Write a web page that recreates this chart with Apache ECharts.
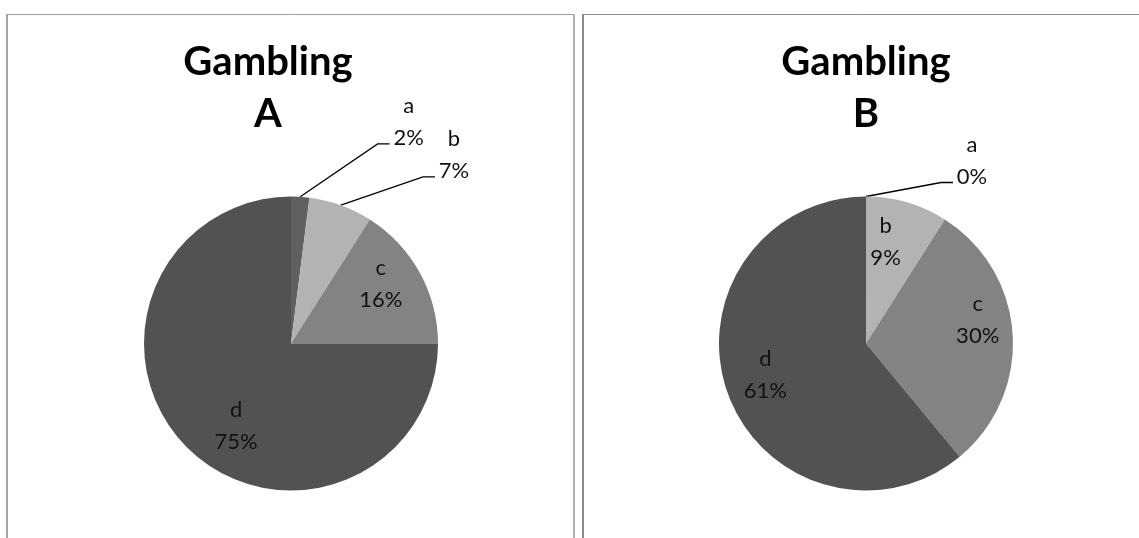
<!DOCTYPE html>
<html><head><meta charset="utf-8">
<script src="https://cdn.jsdelivr.net/npm/echarts@6/dist/echarts.min.js"></script>
<style>html,body{margin:0;padding:0;background:#fff}#c{width:1139px;height:538px}</style>
</head><body><div id="c"></div>
<script>
// ---- data ----
const categories = ['a', 'b', 'c', 'd'];
const valuesA = [2, 7, 16, 75];
const valuesB = [0, 9, 30, 61];
const titleTextA = 'Gambling\nA';
const titleTextB = 'Gambling\nB';
const outsideA = ['a', 'b'];
const outsideB = ['a'];

// ---- styles ----
const colors = ['#606060', '#b3b3b3', '#838383', '#525252'];
const R = 147;
const centerA = [291, 343.5];
const centerB = [866, 343.5];
const leaderA = { a: [53, 86], b: [30, 84] };
const leaderB = { a: [14, 87] };
const insideOffsetA = { c: [-3, -9], d: [20, 8] };
const insideOffsetB = { b: [-10, 0], c: [6, -17], d: [-1, -4] };
const FONT = 'Lato, "Open Sans", sans-serif';
const labelColor = '#111111';

function makeSeries(values, center, outside, leader, insideOffset) {
  const main = {
    type: 'pie', radius: R, center: center, startAngle: 89.99, clockwise: true,
    avoidLabelOverlap: false, silent: true, animation: false,
    label: {
      position: 'outside', distanceToLabelLine: 3,
      formatter: '{t|{b}}\n{t|{c}%}',
      padding: [0, 0, 44, 0],
      rich: { t: { width: 32, align: 'center', fontSize: 22, lineHeight: 32, fontFamily: FONT, color: labelColor } }
    },
    labelLine: { lineStyle: { color: '#000', width: 1.3 } },
    labelLayout: function (params) {
      const p = params.labelLinePoints;
      if (!p || p.length < 3) return {};
      const end = p[2];
      return { labelLinePoints: [p[0], [end[0] - 12, end[1]], end] };
    },
    data: categories.map((c, i) => {
      const isOut = outside.includes(c);
      const item = { name: c, value: values[i], itemStyle: { color: colors[i] },
        label: { show: isOut }, labelLine: { show: isOut } };
      if (isOut) { item.labelLine.length = leader[c][0]; item.labelLine.length2 = leader[c][1]; }
      return item;
    })
  };
  const overlay = {
    type: 'pie', radius: [R * 0.45, R * 0.95], center: center, startAngle: 89.99, clockwise: true,
    avoidLabelOverlap: false, silent: true, animation: false,
    itemStyle: { color: 'rgba(0,0,0,0)' },
    label: { position: 'inside', formatter: '{b}\n{c}%', fontSize: 22, lineHeight: 32, fontFamily: FONT, color: labelColor },
    labelLine: { show: false },
    data: categories.map((c, i) => ({ name: c, value: values[i],
      label: { show: !outside.includes(c), offset: insideOffset[c] || [0, 0] } }))
  };
  return [main, overlay];
}

const chart = echarts.init(document.getElementById('c'), null, { renderer: 'canvas' });
const titleStyle = { fontSize: 40, fontWeight: 'bold', fontFamily: FONT, color: '#000', lineHeight: 52 };
chart.setOption({
  animation: false,
  backgroundColor: '#fff',
  title: [
    { text: titleTextA, left: 263, top: 31, textAlign: 'center', textStyle: titleStyle },
    { text: titleTextB, left: 861, top: 31, textAlign: 'center', textStyle: titleStyle }
  ],
  graphic: [
    { type: 'line', shape: { x1: 7, y1: 14, x2: 7, y2: 540 }, style: { stroke: '#a5a5a5', lineWidth: 2 } },
    { type: 'line', shape: { x1: 6, y1: 14.5, x2: 575, y2: 14.5 }, style: { stroke: '#a0a0a0', lineWidth: 1 } },
    { type: 'line', shape: { x1: 574, y1: 14, x2: 574, y2: 540 }, style: { stroke: '#b0b0b0', lineWidth: 2 } },
    { type: 'line', shape: { x1: 583, y1: 14, x2: 583, y2: 540 }, style: { stroke: '#8c8c8c', lineWidth: 2 } },
    { type: 'line', shape: { x1: 582, y1: 14.5, x2: 1139, y2: 14.5 }, style: { stroke: '#8c8c8c', lineWidth: 1 } }
  ],
  series: [
    ...makeSeries(valuesA, centerA, outsideA, leaderA, insideOffsetA),
    ...makeSeries(valuesB, centerB, outsideB, leaderB, insideOffsetB)
  ]
});
</script></body></html>
